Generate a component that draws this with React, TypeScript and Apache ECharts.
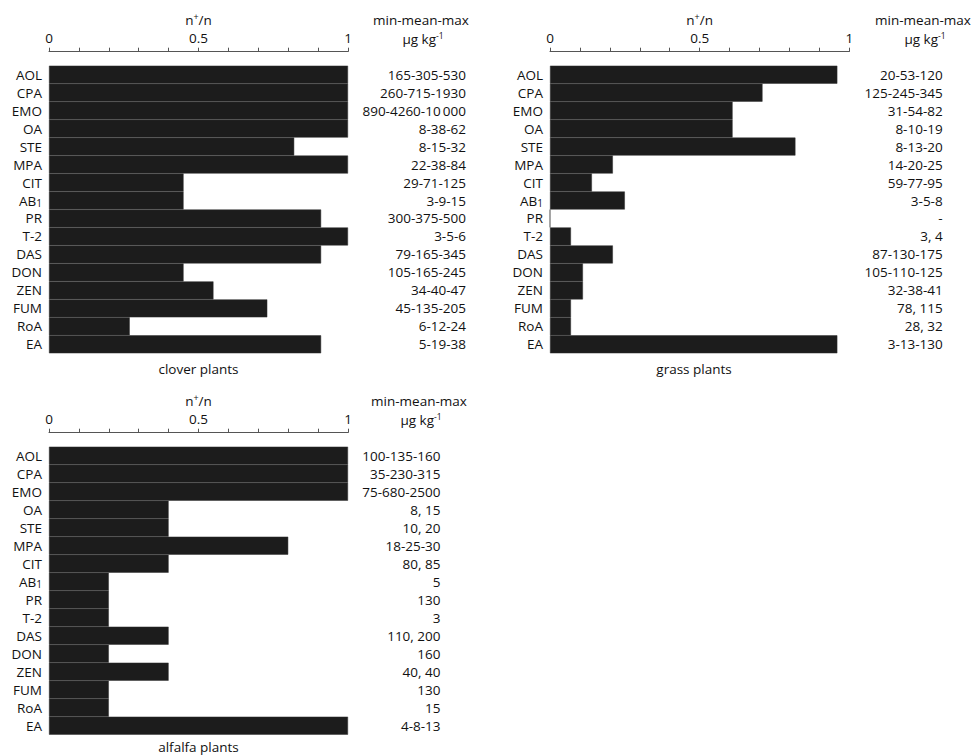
import React, { useEffect, useRef } from "react";
import * as echarts from "echarts";

const categories = ["AOL", "CPA", "EMO", "OA", "STE", "MPA", "CIT", "AB1", "PR", "T-2", "DAS", "DON", "ZEN", "FUM", "RoA", "EA"];

const cloverShare = [1, 1, 1, 1, 0.82, 1, 0.45, 0.45, 0.91, 1, 0.91, 0.45, 0.55, 0.73, 0.27, 0.91];
const cloverRange = ["165-305-530", "260-715-1930", "890-4260-10\u2009000", "8-38-62", "8-15-32", "22-38-84", "29-71-125", "3-9-15", "300-375-500", "3-5-6", "79-165-345", "105-165-245", "34-40-47", "45-135-205", "6-12-24", "5-19-38"];

const grassShare = [0.96, 0.71, 0.61, 0.61, 0.82, 0.21, 0.14, 0.25, 0, 0.07, 0.21, 0.11, 0.11, 0.07, 0.07, 0.96];
const grassRange = ["20-53-120", "125-245-345", "31-54-82", "8-10-19", "8-13-20", "14-20-25", "59-77-95", "3-5-8", "-", "3, 4", "87-130-175", "105-110-125", "32-38-41", "78, 115", "28, 32", "3-13-130"];

const alfalfaShare = [1, 1, 1, 0.4, 0.4, 0.8, 0.4, 0.2, 0.2, 0.2, 0.4, 0.2, 0.4, 0.2, 0.2, 1];
const alfalfaRange = ["100-135-160", "35-230-315", "75-680-2500", "8, 15", "10, 20", "18-25-30", "80, 85", "5", "130", "3", "110, 200", "160", "40, 40", "130", "15", "4-8-13"];

const panelTitles = ["clover plants", "grass plants", "alfalfa plants"];
const xTickLabels = ["0", "0.5", "1"];
const headerTop = "min-mean-max";

const FONT = "Open Sans";
const FS = 13.5;
const TXT = "#111111";

export default function App() {
  const ref = useRef<HTMLDivElement>(null);
  useEffect(() => {
    if (!ref.current) return;
    const chart = echarts.init(ref.current, null, { renderer: "svg" });

    const panels = [
      { share: cloverShare, range: cloverRange, left: 49, top: 65.7, width: 299, height: 287.6, rangeMargin: 118, headX: 421, titleX: 198.5, titleY: 369 },
      { share: grassShare, range: grassRange, left: 550, top: 65.7, width: 299.3, height: 287.6, rangeMargin: 93.4, headX: 923, titleX: 694, titleY: 369 },
      { share: alfalfaShare, range: alfalfaRange, left: 49, top: 446.7, width: 299, height: 288, rangeMargin: 92.5, headX: 419, titleX: 198.5, titleY: 746.5 },
    ];

    const baseText = { fontFamily: FONT, fontSize: FS, color: TXT };

    const grid: any[] = [];
    const xAxis: any[] = [];
    const yAxis: any[] = [];
    const series: any[] = [];
    const graphic: any[] = [];

    panels.forEach((p, i) => {
      grid.push({ left: p.left, top: p.top, width: p.width, height: p.height, containLabel: false });
      xAxis.push({
        type: "value",
        gridIndex: i,
        position: "top",
        offset: 14,
        min: 0,
        max: 1,
        interval: 0.1,
        name: "{a|n}{s|+}{a|/n}",
        nameLocation: "middle",
        nameGap: 24,
        nameTextStyle: {
          ...baseText,
          rich: {
            a: { ...baseText },
            s: { fontFamily: FONT, fontSize: 9, color: TXT, padding: [0, 0, 7, 0] },
          },
        },
        axisLine: { show: true, lineStyle: { color: "#555", width: 1 } },
        axisTick: { show: true, length: 4, lineStyle: { color: "#555", width: 1 } },
        splitLine: { show: false },
        axisLabel: {
          ...baseText,
          margin: 7,
          formatter: (v: number) => {
            if (Math.abs(v) < 1e-6) return xTickLabels[0];
            if (Math.abs(v - 0.5) < 1e-6) return xTickLabels[1];
            if (Math.abs(v - 1) < 1e-6) return xTickLabels[2];
            return "";
          },
        },
      });
      yAxis.push({
        type: "category",
        gridIndex: i,
        data: categories,
        inverse: true,
        axisLine: { show: false },
        axisTick: { show: false },
        axisLabel: {
          ...baseText,
          interval: 0,
          margin: 7,
          formatter: (v: string) => (v === "AB1" ? "{a|AB}{b|1}" : "{a|" + v + "}"),
          rich: {
            a: { ...baseText },
            b: { fontFamily: FONT, fontSize: 10, color: TXT, padding: [5, 0, 0, 0] },
          },
        },
      });
      yAxis.push({
        type: "category",
        gridIndex: i,
        position: "right",
        data: p.range,
        inverse: true,
        axisLine: { show: false },
        axisTick: { show: false },
        axisLabel: { ...baseText, interval: 0, align: "right", margin: p.rangeMargin },
      });
      series.push({
        type: "bar",
        xAxisIndex: i,
        yAxisIndex: i * 2,
        data: p.share,
        barCategoryGap: "0%",
        itemStyle: { color: "#1c1c1c", borderColor: "#303030", borderWidth: 0.5 },
        silent: true,
      });
      const headY = p.top - 65.7;
      graphic.push({
        type: "text",
        x: p.headX,
        y: headY + 20,
        style: { text: headerTop, font: `${FS}px "${FONT}"`, fill: TXT, textAlign: "center", textVerticalAlign: "middle" },
      });
      graphic.push({
        type: "text",
        x: p.headX + 2,
        y: headY + 38.5,
        style: {
          text: "{a|\u00b5g kg}{s|-1}",
          fill: TXT,
          textAlign: "center",
          textVerticalAlign: "middle",
          rich: {
            a: { fontFamily: FONT, fontSize: FS, fill: TXT },
            s: { fontFamily: FONT, fontSize: 8.5, fill: TXT, padding: [0, 0, 7, 0] },
          },
        },
      });
      graphic.push({
        type: "text",
        x: p.titleX,
        y: p.titleY,
        style: { text: panelTitles[i], font: `${FS}px "${FONT}"`, fill: TXT, textAlign: "center", textVerticalAlign: "middle" },
      });
    });

    chart.setOption({
      animation: false,
      backgroundColor: "#ffffff",
      textStyle: { fontFamily: FONT },
      grid,
      xAxis,
      yAxis,
      series,
      graphic,
    });
    return () => chart.dispose();
  }, []);
  return <div ref={ref} style={{ position: "absolute", left: 0, top: 0, width: 975, height: 755 }} />;
}
